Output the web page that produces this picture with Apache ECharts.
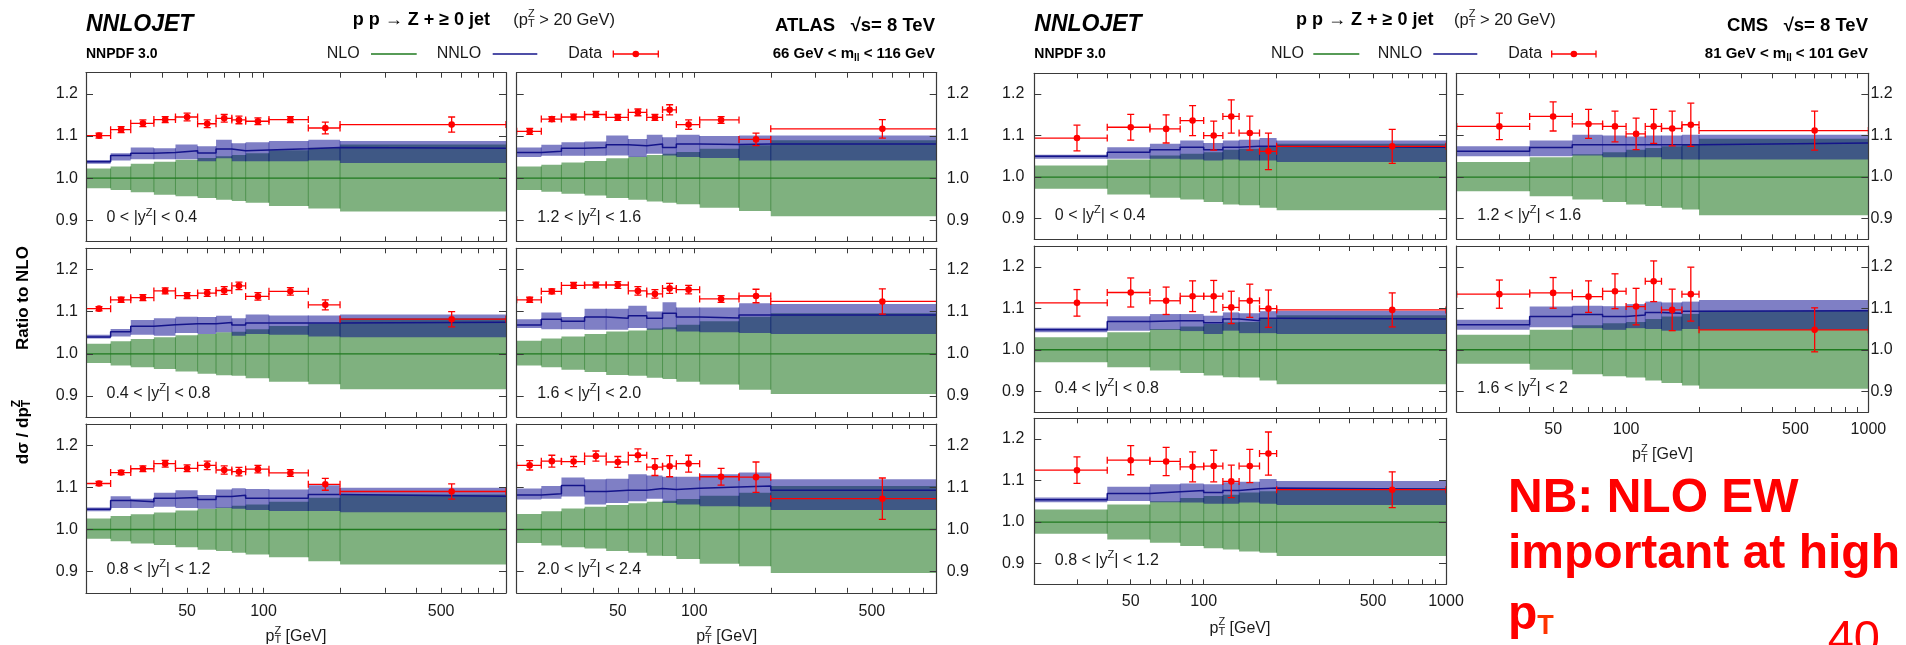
<!DOCTYPE html>
<html>
<head>
<meta charset="utf-8">
<script src="https://cdn.jsdelivr.net/npm/echarts@6/dist/echarts.min.js"></script>
<style>
html, body { margin: 0; padding: 0; background: #ffffff; }
#chart { width: 1906px; height: 645px; }
</style>
</head>
<body>
<div id="chart"></div>
<script>
// ---------- bins and ticks ----------
const atlasEdges = [20, 25, 30, 37, 45, 55, 65, 75, 85, 105, 150, 200, 900];
const atlasCentres = [22.5, 27.5, 33.5, 41, 50, 60, 70, 80, 95, 127.5, 175, 550];
const cmsEdges = [20, 40, 60, 80, 100, 120, 140, 170, 200, 1000];
const cmsCentres = [30, 50, 70, 90, 110, 130, 155, 185, 600];

const xTickValues = [20, 30, 40, 50, 60, 70, 80, 90, 100, 200, 300, 400, 500, 600, 700, 800, 900, 1000];
const xLabelValues = [50, 100, 500, 1000];
const yLabelValues = [0.9, 1.0, 1.1, 1.2];
const nloRatio = 1.0;

// ---------- ATLAS, 0 < |y| < 0.4 ----------
const atlas1NloLow   = [0.976, 0.972, 0.967, 0.961, 0.957, 0.953, 0.949, 0.946, 0.942, 0.934, 0.928, 0.921];
const atlas1NloHigh  = [1.023, 1.028, 1.034, 1.039, 1.044, 1.048, 1.052, 1.055, 1.059, 1.066, 1.072, 1.080];
const atlas1NnloLow  = [1.034, 1.042, 1.045, 1.045, 1.045, 1.040, 1.047, 1.040, 1.040, 1.040, 1.042, 1.036];
const atlas1NnloHigh = [1.043, 1.059, 1.073, 1.071, 1.080, 1.076, 1.091, 1.083, 1.085, 1.088, 1.091, 1.088];
const atlas1NnloMid  = [1.039, 1.054, 1.059, 1.061, 1.065, 1.060, 1.069, 1.065, 1.067, 1.070, 1.073, 1.071];
const atlas1Data     = [1.101, 1.115, 1.130, 1.139, 1.145, 1.129, 1.142, 1.138, 1.135, 1.139, 1.119, 1.127];
const atlas1Err      = [0.006, 0.007, 0.008, 0.007, 0.009, 0.009, 0.009, 0.009, 0.008, 0.007, 0.014, 0.018];

// ---------- ATLAS, 0.4 < |y| < 0.8 ----------
const atlas2NloLow   = [0.978, 0.972, 0.968, 0.964, 0.958, 0.953, 0.949, 0.948, 0.942, 0.934, 0.928, 0.916];
const atlas2NloHigh  = [1.024, 1.030, 1.035, 1.039, 1.044, 1.047, 1.051, 1.052, 1.058, 1.066, 1.072, 1.084];
const atlas2NnloLow  = [1.036, 1.041, 1.045, 1.043, 1.049, 1.047, 1.051, 1.043, 1.047, 1.045, 1.041, 1.039];
const atlas2NnloHigh = [1.045, 1.059, 1.080, 1.084, 1.088, 1.087, 1.090, 1.084, 1.093, 1.091, 1.091, 1.093];
const atlas2NnloMid  = [1.040, 1.052, 1.065, 1.069, 1.071, 1.071, 1.074, 1.068, 1.073, 1.073, 1.073, 1.075];
const atlas2Data     = [1.107, 1.128, 1.133, 1.149, 1.138, 1.144, 1.150, 1.161, 1.136, 1.148, 1.116, 1.082];
const atlas2Err      = [0.005, 0.006, 0.007, 0.007, 0.007, 0.008, 0.009, 0.009, 0.009, 0.009, 0.012, 0.018];

// ---------- ATLAS, 0.8 < |y| < 1.2 ----------
const atlas3NloLow   = [0.978, 0.972, 0.967, 0.963, 0.958, 0.952, 0.949, 0.945, 0.941, 0.934, 0.925, 0.917];
const atlas3NloHigh  = [1.026, 1.032, 1.036, 1.040, 1.045, 1.049, 1.052, 1.056, 1.059, 1.066, 1.075, 1.083];
const atlas3NnloLow  = [1.043, 1.051, 1.051, 1.054, 1.051, 1.049, 1.051, 1.049, 1.046, 1.044, 1.044, 1.041];
const atlas3NnloHigh = [1.052, 1.079, 1.073, 1.087, 1.093, 1.082, 1.095, 1.098, 1.096, 1.095, 1.105, 1.099];
const atlas3NnloMid  = [1.048, 1.069, 1.066, 1.074, 1.076, 1.071, 1.078, 1.081, 1.074, 1.074, 1.083, 1.079];
const atlas3Data     = [1.109, 1.135, 1.144, 1.156, 1.145, 1.152, 1.141, 1.137, 1.143, 1.134, 1.107, 1.090];
const atlas3Err      = [0.005, 0.005, 0.007, 0.008, 0.008, 0.010, 0.010, 0.010, 0.009, 0.008, 0.014, 0.018];

// ---------- ATLAS, 1.2 < |y| < 1.6 ----------
const atlas4NloLow   = [0.972, 0.968, 0.963, 0.959, 0.953, 0.949, 0.945, 0.942, 0.938, 0.930, 0.922, 0.910];
const atlas4NloHigh  = [1.028, 1.032, 1.037, 1.041, 1.047, 1.051, 1.055, 1.058, 1.062, 1.070, 1.078, 1.090];
const atlas4NnloLow  = [1.050, 1.053, 1.053, 1.053, 1.054, 1.050, 1.058, 1.054, 1.050, 1.048, 1.042, 1.042];
const atlas4NnloHigh = [1.073, 1.079, 1.085, 1.087, 1.101, 1.093, 1.103, 1.097, 1.103, 1.100, 1.101, 1.101];
const atlas4NnloMid  = [1.061, 1.064, 1.071, 1.073, 1.079, 1.077, 1.081, 1.073, 1.081, 1.080, 1.081, 1.081];
const atlas4Data     = [1.111, 1.140, 1.145, 1.151, 1.144, 1.156, 1.144, 1.162, 1.127, 1.138, 1.092, 1.117];
const atlas4Err      = [0.007, 0.006, 0.007, 0.007, 0.007, 0.008, 0.007, 0.012, 0.011, 0.008, 0.015, 0.022];

// ---------- ATLAS, 1.6 < |y| < 2.0 ----------
const atlas5NloLow   = [0.972, 0.968, 0.962, 0.957, 0.950, 0.948, 0.943, 0.940, 0.934, 0.927, 0.915, 0.905];
const atlas5NloHigh  = [1.031, 1.036, 1.041, 1.047, 1.053, 1.055, 1.060, 1.063, 1.069, 1.077, 1.088, 1.096];
const atlas5NnloLow  = [1.061, 1.058, 1.058, 1.057, 1.057, 1.061, 1.057, 1.058, 1.053, 1.051, 1.049, 1.047];
const atlas5NnloHigh = [1.082, 1.098, 1.087, 1.107, 1.107, 1.114, 1.100, 1.122, 1.110, 1.110, 1.120, 1.118];
const atlas5NnloMid  = [1.068, 1.082, 1.077, 1.087, 1.084, 1.090, 1.084, 1.096, 1.087, 1.085, 1.092, 1.092];
const atlas5Data     = [1.128, 1.148, 1.162, 1.163, 1.163, 1.149, 1.142, 1.155, 1.152, 1.130, 1.137, 1.124];
const atlas5Err      = [0.006, 0.006, 0.007, 0.007, 0.008, 0.010, 0.010, 0.012, 0.010, 0.008, 0.016, 0.030];

// ---------- ATLAS, 2.0 < |y| < 2.4 ----------
const atlas6NloLow   = [0.968, 0.962, 0.958, 0.955, 0.949, 0.945, 0.938, 0.937, 0.930, 0.919, 0.913, 0.897];
const atlas6NloHigh  = [1.037, 1.043, 1.050, 1.054, 1.058, 1.062, 1.066, 1.068, 1.072, 1.080, 1.087, 1.103];
const atlas6NnloLow  = [1.071, 1.073, 1.078, 1.059, 1.063, 1.067, 1.073, 1.063, 1.059, 1.055, 1.054, 1.046];
const atlas6NnloHigh = [1.097, 1.103, 1.123, 1.119, 1.120, 1.131, 1.128, 1.125, 1.125, 1.131, 1.135, 1.119];
const atlas6NnloMid  = [1.082, 1.085, 1.104, 1.090, 1.093, 1.093, 1.097, 1.095, 1.098, 1.101, 1.103, 1.093];
const atlas6Data     = [1.152, 1.162, 1.161, 1.174, 1.160, 1.176, 1.148, 1.150, 1.156, 1.125, 1.124, 1.073];
const atlas6Err      = [0.011, 0.014, 0.012, 0.012, 0.013, 0.015, 0.020, 0.025, 0.020, 0.020, 0.036, 0.049];

// ---------- CMS, 0 < |y| < 0.4 ----------
const cms1NloLow   = [0.972, 0.958, 0.950, 0.946, 0.940, 0.934, 0.932, 0.926, 0.920];
const cms1NloHigh  = [1.028, 1.042, 1.052, 1.056, 1.060, 1.066, 1.068, 1.074, 1.080];
const cms1NnloLow  = [1.044, 1.044, 1.044, 1.042, 1.040, 1.042, 1.040, 1.040, 1.036];
const cms1NnloHigh = [1.054, 1.072, 1.080, 1.088, 1.082, 1.088, 1.090, 1.094, 1.088];
const cms1NnloMid  = [1.050, 1.060, 1.066, 1.072, 1.066, 1.072, 1.074, 1.074, 1.072];
const cms1Data     = [1.094, 1.120, 1.116, 1.136, 1.100, 1.146, 1.106, 1.062, 1.074];
const cms1Err      = [0.031, 0.031, 0.034, 0.036, 0.035, 0.040, 0.041, 0.044, 0.041];

// ---------- CMS, 0.4 < |y| < 0.8 ----------
const cms2NloLow   = [0.970, 0.958, 0.950, 0.944, 0.938, 0.934, 0.933, 0.926, 0.917];
const cms2NloHigh  = [1.030, 1.042, 1.050, 1.056, 1.062, 1.066, 1.067, 1.074, 1.083];
const cms2NnloLow  = [1.042, 1.046, 1.048, 1.045, 1.038, 1.046, 1.040, 1.040, 1.038];
const cms2NnloHigh = [1.053, 1.081, 1.086, 1.086, 1.082, 1.090, 1.088, 1.093, 1.094];
const cms2NnloMid  = [1.048, 1.068, 1.070, 1.070, 1.065, 1.074, 1.070, 1.076, 1.074];
const cms2Data     = [1.113, 1.138, 1.118, 1.129, 1.129, 1.102, 1.118, 1.099, 1.096];
const cms2Err      = [0.032, 0.035, 0.033, 0.037, 0.038, 0.039, 0.040, 0.045, 0.041];

// ---------- CMS, 0.8 < |y| < 1.2 ----------
const cms3NloLow   = [0.972, 0.958, 0.950, 0.942, 0.937, 0.934, 0.929, 0.926, 0.918];
const cms3NloHigh  = [1.030, 1.042, 1.050, 1.058, 1.063, 1.066, 1.071, 1.074, 1.082];
const cms3NnloLow  = [1.048, 1.051, 1.048, 1.047, 1.044, 1.044, 1.047, 1.044, 1.041];
const cms3NnloHigh = [1.059, 1.085, 1.091, 1.093, 1.091, 1.096, 1.097, 1.104, 1.099];
const cms3NnloMid  = [1.054, 1.069, 1.073, 1.076, 1.071, 1.076, 1.080, 1.082, 1.079];
const cms3Data     = [1.125, 1.149, 1.146, 1.133, 1.135, 1.098, 1.135, 1.165, 1.078];
const cms3Err      = [0.032, 0.035, 0.034, 0.036, 0.038, 0.039, 0.040, 0.052, 0.043];

// ---------- CMS, 1.2 < |y| < 1.6 ----------
const cms4NloLow   = [0.966, 0.954, 0.946, 0.940, 0.934, 0.930, 0.926, 0.922, 0.908];
const cms4NloHigh  = [1.036, 1.048, 1.055, 1.060, 1.066, 1.070, 1.074, 1.078, 1.092];
const cms4NnloLow  = [1.050, 1.050, 1.052, 1.048, 1.048, 1.048, 1.043, 1.042, 1.042];
const cms4NnloHigh = [1.074, 1.088, 1.102, 1.100, 1.098, 1.100, 1.100, 1.102, 1.102];
const cms4NnloMid  = [1.062, 1.071, 1.078, 1.078, 1.078, 1.078, 1.078, 1.078, 1.082];
const cms4Data     = [1.122, 1.146, 1.128, 1.122, 1.104, 1.122, 1.117, 1.126, 1.112];
const cms4Err      = [0.032, 0.035, 0.035, 0.037, 0.038, 0.041, 0.042, 0.052, 0.047];

// ---------- CMS, 1.6 < |y| < 2 ----------
const cms5NloLow   = [0.966, 0.952, 0.941, 0.936, 0.933, 0.926, 0.920, 0.914, 0.906];
const cms5NloHigh  = [1.036, 1.048, 1.059, 1.064, 1.067, 1.074, 1.080, 1.086, 1.094];
const cms5NnloLow  = [1.048, 1.054, 1.052, 1.048, 1.052, 1.050, 1.046, 1.050, 1.048];
const cms5NnloHigh = [1.072, 1.104, 1.106, 1.105, 1.110, 1.116, 1.114, 1.116, 1.120];
const cms5NnloMid  = [1.060, 1.080, 1.085, 1.080, 1.084, 1.090, 1.088, 1.093, 1.094];
const cms5Data     = [1.134, 1.137, 1.128, 1.141, 1.104, 1.165, 1.096, 1.134, 1.048];
const cms5Err      = [0.034, 0.037, 0.038, 0.042, 0.044, 0.049, 0.050, 0.065, 0.053];

// ---------- styling ----------
const FONT = '"Liberation Sans", Arial, Helvetica, sans-serif';
const FRAME = '#3a3a3a';
const TEXT = '#1a1a1a';
const RED = '#ff0000';
const NLO_FILL = 'rgba(0,100,0,0.5)';
const NLO_SEAM = 'rgba(0,100,0,0.45)';
const NLO_LINE = '#1f7a1f';
const NNLO_FILL = 'rgba(0,0,139,0.5)';
const NNLO_SEAM = 'rgba(0,0,139,0.4)';
const NNLO_LINE = '#14148a';
const LOG = Math.log10;

// panel frames in pixels
const layouts = {
  atlas: { cols: [86, 516.7], rows: [72.7, 248.3, 424], w: 420, h: 168.8,
           edges: atlasEdges, centres: atlasCentres, xLabelMargin: 11, yLeftMargin: 8, yRightMargin: 10 },
  cms:   { cols: [1034.3, 1456.7], rows: [73.3, 246, 418.3], w: 411.7, h: 166,
           edges: cmsEdges, centres: cmsCentres, xLabelMargin: 9.5, yLeftMargin: 10, yRightMargin: 2 }
};

const panels = [
  { exp: 'atlas', col: 0, row: 0, rap: ['0', '0.4'], nloLow: atlas1NloLow, nloHigh: atlas1NloHigh, nnloLow: atlas1NnloLow, nnloHigh: atlas1NnloHigh, nnloMid: atlas1NnloMid, data: atlas1Data, err: atlas1Err },
  { exp: 'atlas', col: 0, row: 1, rap: ['0.4', '0.8'], nloLow: atlas2NloLow, nloHigh: atlas2NloHigh, nnloLow: atlas2NnloLow, nnloHigh: atlas2NnloHigh, nnloMid: atlas2NnloMid, data: atlas2Data, err: atlas2Err },
  { exp: 'atlas', col: 0, row: 2, rap: ['0.8', '1.2'], nloLow: atlas3NloLow, nloHigh: atlas3NloHigh, nnloLow: atlas3NnloLow, nnloHigh: atlas3NnloHigh, nnloMid: atlas3NnloMid, data: atlas3Data, err: atlas3Err, xLabels: true },
  { exp: 'atlas', col: 1, row: 0, rap: ['1.2', '1.6'], nloLow: atlas4NloLow, nloHigh: atlas4NloHigh, nnloLow: atlas4NnloLow, nnloHigh: atlas4NnloHigh, nnloMid: atlas4NnloMid, data: atlas4Data, err: atlas4Err },
  { exp: 'atlas', col: 1, row: 1, rap: ['1.6', '2.0'], nloLow: atlas5NloLow, nloHigh: atlas5NloHigh, nnloLow: atlas5NnloLow, nnloHigh: atlas5NnloHigh, nnloMid: atlas5NnloMid, data: atlas5Data, err: atlas5Err },
  { exp: 'atlas', col: 1, row: 2, rap: ['2.0', '2.4'], nloLow: atlas6NloLow, nloHigh: atlas6NloHigh, nnloLow: atlas6NnloLow, nnloHigh: atlas6NnloHigh, nnloMid: atlas6NnloMid, data: atlas6Data, err: atlas6Err, xLabels: true },
  { exp: 'cms', col: 0, row: 0, rap: ['0', '0.4'], nloLow: cms1NloLow, nloHigh: cms1NloHigh, nnloLow: cms1NnloLow, nnloHigh: cms1NnloHigh, nnloMid: cms1NnloMid, data: cms1Data, err: cms1Err },
  { exp: 'cms', col: 0, row: 1, rap: ['0.4', '0.8'], nloLow: cms2NloLow, nloHigh: cms2NloHigh, nnloLow: cms2NnloLow, nnloHigh: cms2NnloHigh, nnloMid: cms2NnloMid, data: cms2Data, err: cms2Err },
  { exp: 'cms', col: 0, row: 2, rap: ['0.8', '1.2'], nloLow: cms3NloLow, nloHigh: cms3NloHigh, nnloLow: cms3NnloLow, nnloHigh: cms3NnloHigh, nnloMid: cms3NnloMid, data: cms3Data, err: cms3Err, xLabels: true },
  { exp: 'cms', col: 1, row: 0, rap: ['1.2', '1.6'], nloLow: cms4NloLow, nloHigh: cms4NloHigh, nnloLow: cms4NnloLow, nnloHigh: cms4NnloHigh, nnloMid: cms4NnloMid, data: cms4Data, err: cms4Err },
  { exp: 'cms', col: 1, row: 1, rap: ['1.6', '2'], nloLow: cms5NloLow, nloHigh: cms5NloHigh, nnloLow: cms5NnloLow, nnloHigh: cms5NnloHigh, nnloMid: cms5NnloMid, data: cms5Data, err: cms5Err, xLabels: true }
];

// ---------- text helpers ----------
const measureCtx = document.createElement('canvas').getContext('2d');
function measure(t, size, weight, style) {
  measureCtx.font = (style || 'normal') + ' ' + (weight || 'normal') + ' ' + size + 'px ' + FONT;
  return measureCtx.measureText(t).width;
}
// lays out a run of text pieces; pieces with sup/sub are stacked scripts
function rowText(x, y, parts, anchor, color) {
  const items = [];
  let cx = 0;
  parts.forEach(p => {
    if (p.sup !== undefined || p.sub !== undefined) {
      const w1 = p.sup ? measure(p.sup, p.f, p.w) : 0;
      const w2 = p.sub ? measure(p.sub, p.f, p.w) : 0;
      if (p.sup) items.push({ t: p.sup, x: cx, dy: -p.up, f: p.f, w: p.w, c: p.c });
      if (p.sub) items.push({ t: p.sub, x: cx, dy: p.down, f: p.f, w: p.w, c: p.c });
      cx += Math.max(w1, w2) + (p.pad || 0);
    } else {
      items.push({ t: p.t, x: cx, dy: p.dy || 0, f: p.f, w: p.w, s: p.s, c: p.c });
      cx += measure(p.t, p.f, p.w, p.s);
    }
  });
  const off = anchor === 'center' ? -cx / 2 : anchor === 'right' ? -cx : 0;
  return items.map(it => ({
    type: 'text', silent: true, z: 50,
    x: x + off + it.x, y: y + it.dy,
    style: {
      text: it.t, fill: it.c || color, fontFamily: FONT, fontSize: it.f,
      fontWeight: it.w || 'normal', fontStyle: it.s || 'normal',
      align: 'left', verticalAlign: 'middle'
    }
  }));
}
function ptParts(f, w) {
  return [{ t: 'p', f: f, w: w }, { sup: 'Z', sub: 'T', f: Math.round(f * 0.68), w: w, up: f * 0.38, down: f * 0.22 }];
}

// ---------- build option ----------
const grids = [], xAxes = [], yAxes = [], series = [], graphics = [];

panels.forEach((p, i) => {
  const L = layouts[p.exp];
  const left = L.cols[p.col], top = L.rows[p.row];
  const edges = L.edges, centres = L.centres;
  const xmin = edges[0], xmax = edges[edges.length - 1];
  grids.push({ left: left, top: top, width: L.w, height: L.h, show: false });

  const tickVals = xTickValues.filter(v => v >= xmin && v <= xmax).map(LOG);
  const labVals = xLabelValues.filter(v => v >= xmin && v <= xmax).map(LOG);
  const lineCfg = { show: true, onZero: false, lineStyle: { color: FRAME, width: 1.2 } };
  const xBase = {
    type: 'value', gridIndex: i, min: LOG(xmin), max: LOG(xmax),
    splitLine: { show: false }, axisLine: lineCfg, z: 20,
    axisTick: { show: true, inside: true, length: 5, customValues: tickVals, lineStyle: { color: FRAME, width: 1 } }
  };
  xAxes.push(Object.assign({}, xBase, {
    position: 'bottom',
    axisLabel: {
      show: !!p.xLabels, customValues: labVals, margin: L.xLabelMargin,
      formatter: v => String(Math.round(Math.pow(10, v))),
      fontFamily: FONT, fontSize: 16, color: TEXT
    }
  }));
  xAxes.push(Object.assign({}, xBase, { position: 'top', axisLabel: { show: false } }));

  const yBase = {
    type: 'value', gridIndex: i, min: 0.85, max: 1.25,
    splitLine: { show: false }, axisLine: lineCfg, z: 20,
    axisTick: { show: true, inside: true, length: 7, customValues: yLabelValues, lineStyle: { color: FRAME, width: 1 } }
  };
  const yLab = {
    customValues: yLabelValues, formatter: v => v.toFixed(1),
    fontFamily: FONT, fontSize: 16, color: TEXT
  };
  yAxes.push(Object.assign({}, yBase, { position: 'left',
    axisLabel: Object.assign({ show: p.col === 0, margin: L.yLeftMargin }, yLab) }));
  yAxes.push(Object.assign({}, yBase, { position: 'right',
    axisLabel: Object.assign({ show: p.col === 1, margin: L.yRightMargin }, yLab) }));

  const axisRef = { xAxisIndex: 2 * i, yAxisIndex: 2 * i };

  // uncertainty band: one rectangle per bin plus the darker seams between bins
  function bandSeries(lowArr, highArr, fill, seam, z) {
    const items = lowArr.map((lo, k) => [LOG(edges[k]), LOG(edges[k + 1]), lo, highArr[k]]);
    return Object.assign({
      type: 'custom', silent: true, clip: true, z: z,
      encode: { x: [0, 1], y: [2, 3] },
      data: items,
      renderItem: (params, api) => {
        const k = params.dataIndex;
        const a = api.coord([api.value(0), api.value(3)]);
        const b = api.coord([api.value(1), api.value(2)]);
        const children = [{
          type: 'rect', shape: { x: a[0], y: a[1], width: b[0] - a[0], height: b[1] - a[1] },
          style: { fill: fill }
        }];
        if (k > 0) {
          const lo = Math.max(lowArr[k], lowArr[k - 1]);
          const hi = Math.min(highArr[k], highArr[k - 1]);
          if (hi > lo) {
            const s0 = api.coord([api.value(0), hi]);
            const s1 = api.coord([api.value(0), lo]);
            children.push({ type: 'line', shape: { x1: s0[0], y1: s0[1], x2: s1[0], y2: s1[1] },
                            style: { stroke: seam, lineWidth: 1 } });
          }
        }
        return { type: 'group', children: children };
      }
    }, axisRef);
  }

  series.push(bandSeries(p.nloLow, p.nloHigh, NLO_FILL, NLO_SEAM, 2));
  series.push(Object.assign({
    type: 'line', silent: true, z: 3, symbol: 'none', animation: false,
    lineStyle: { color: NLO_LINE, width: 1.3 },
    data: [[LOG(xmin), nloRatio], [LOG(xmax), nloRatio]]
  }, axisRef));
  series.push(bandSeries(p.nnloLow, p.nnloHigh, NNLO_FILL, NNLO_SEAM, 4));

  const step = [];
  p.nnloMid.forEach((m, k) => { step.push([LOG(edges[k]), m]); step.push([LOG(edges[k + 1]), m]); });
  series.push(Object.assign({
    type: 'line', silent: true, z: 5, symbol: 'none', animation: false,
    lineStyle: { color: NNLO_LINE, width: 1.5 }, data: step
  }, axisRef));

  // measured points with x (bin) and y (uncertainty) bars
  series.push(Object.assign({
    type: 'custom', silent: true, clip: true, z: 6,
    encode: { x: [0, 1, 2], y: [3] },
    data: p.data.map((v, k) => [LOG(centres[k]), LOG(edges[k]), LOG(edges[k + 1]), v, p.err[k]]),
    renderItem: (params, api) => {
      const xc = api.value(0), x0 = api.value(1), x1 = api.value(2), y = api.value(3), e = api.value(4);
      const c = api.coord([xc, y]), l = api.coord([x0, y]), r = api.coord([x1, y]);
      const t = api.coord([xc, y + e]), b = api.coord([xc, y - e]);
      const cap = 3.5, st = { stroke: RED, lineWidth: 1.3 };
      const ln = (x1_, y1_, x2_, y2_) => ({ type: 'line', shape: { x1: x1_, y1: y1_, x2: x2_, y2: y2_ }, style: st });
      return { type: 'group', children: [
        ln(l[0], l[1], r[0], r[1]),
        ln(l[0], l[1] - cap, l[0], l[1] + cap),
        ln(r[0], r[1] - cap, r[0], r[1] + cap),
        ln(t[0], t[1], b[0], b[1]),
        ln(t[0] - cap, t[1], t[0] + cap, t[1]),
        ln(b[0] - cap, b[1], b[0] + cap, b[1]),
        { type: 'circle', shape: { cx: c[0], cy: c[1], r: 3.3 }, style: { fill: RED } }
      ] };
    }
  }, axisRef));

  // rapidity range label
  graphics.push(...rowText(left + 20.5, top + L.h - 23.5, [
    { t: p.rap[0] + ' < |y', f: 16 },
    { sup: 'Z', f: 11, up: 5.5 },
    { t: '| < ' + p.rap[1], f: 16 }
  ], 'left', TEXT));
});

// ---------- headers, legends, axis names ----------
function header(xl, xr, procX, cutX, expName, massText, leg) {
  graphics.push(...rowText(xl, 24.5, [{ t: 'NNLOJET', f: 23, w: 'bold', s: 'italic' }], 'left', '#000'));
  graphics.push(...rowText(xl, 54, [{ t: 'NNPDF 3.0', f: 14, w: 'bold' }], 'left', '#000'));
  graphics.push(...rowText(procX, 20.5, [{ t: 'p p \u2192 Z + \u2265 0 jet', f: 18, w: 'bold' }], 'left', '#000'));
  graphics.push(...rowText(cutX, 20.5, [{ t: '(', f: 16.5 }].concat(ptParts(16.5)).concat([{ t: ' > 20 GeV)', f: 16.5 }]), 'left', TEXT));
  graphics.push(...rowText(xr, 25.5, [{ t: expName + '   \u221As= 8 TeV', f: 18.5, w: 'bold' }], 'right', '#000'));
  graphics.push(...rowText(xr, 54, [
    { t: massText[0] + ' GeV < m', f: 15, w: 'bold' },
    { sub: 'll', f: 10, w: 'bold', down: 4 },
    { t: ' < ' + massText[1] + ' GeV', f: 15, w: 'bold' }
  ], 'right', '#000'));
  // legend
  graphics.push(...rowText(leg.nlo, 54, [{ t: 'NLO', f: 16 }], 'left', TEXT));
  graphics.push(...rowText(leg.nnlo, 54, [{ t: 'NNLO', f: 16 }], 'left', TEXT));
  graphics.push(...rowText(leg.data, 54, [{ t: 'Data', f: 16 }], 'left', TEXT));
  graphics.push({ type: 'line', silent: true, shape: { x1: leg.g[0], y1: 54, x2: leg.g[1], y2: 54 }, style: { stroke: NLO_LINE, lineWidth: 1.3 } });
  graphics.push({ type: 'line', silent: true, shape: { x1: leg.b[0], y1: 54, x2: leg.b[1], y2: 54 }, style: { stroke: NNLO_LINE, lineWidth: 1.3 } });
  const r0 = leg.r[0], r1 = leg.r[1], rm = (r0 + r1) / 2;
  [[r0, 54, r1, 54], [r0, 50.5, r0, 57.5], [r1, 50.5, r1, 57.5]].forEach(s =>
    graphics.push({ type: 'line', silent: true, shape: { x1: s[0], y1: s[1], x2: s[2], y2: s[3] }, style: { stroke: RED, lineWidth: 1.3 } }));
  graphics.push({ type: 'circle', silent: true, shape: { cx: rm, cy: 54, r: 3.3 }, style: { fill: RED } });
}

header(86, 935, 352.7, 513.3, 'ATLAS', ['66', '116'],
  { nlo: 326.7, g: [371, 416.7], nnlo: 436.7, b: [492.7, 537.3], data: 568.3, r: [613.3, 658.3] });
header(1034.3, 1868, 1296, 1454, 'CMS', ['81', '101'],
  { nlo: 1271, g: [1313.3, 1359.3], nnlo: 1377.7, b: [1433.3, 1477.3], data: 1508.3, r: [1551.7, 1596] });

// x-axis names
const ptName = f => ptParts(f).concat([{ t: ' [GeV]', f: f }]);
graphics.push(...rowText(296, 636.7, ptName(16), 'center', TEXT));
graphics.push(...rowText(726.7, 636.7, ptName(16), 'center', TEXT));
graphics.push(...rowText(1240, 628.3, ptName(16), 'center', TEXT));
graphics.push(...rowText(1662.5, 455, ptName(16), 'center', TEXT));

// y-axis name, rotated to read upwards
graphics.push({ type: 'group', x: 23, y: 298, rotation: Math.PI / 2, silent: true,
  children: rowText(0, 0, [{ t: 'Ratio to NLO', f: 17, w: 'bold' }], 'center', '#000') });
graphics.push({ type: 'group', x: 23, y: 432, rotation: Math.PI / 2, silent: true,
  children: rowText(0, 0, [{ t: 'd\u03C3 / dp', f: 17, w: 'bold' },
    { sup: 'Z', sub: 'T', f: 12, w: 'bold', up: 6.5, down: 4 }], 'center', '#000') });

// note
graphics.push(...rowText(1508, 499, [{ t: 'NB: NLO EW', f: 48, w: 'bold' }], 'left', RED));
graphics.push(...rowText(1508, 554.5, [{ t: 'important at high', f: 48, w: 'bold' }], 'left', RED));
graphics.push(...rowText(1508, 616, [{ t: 'p', f: 48, w: 'bold' }, { t: 'T', f: 27, w: 'bold', dy: 11, c: '#ff3300' }], 'left', RED));
graphics.push(...rowText(1880, 640, [{ t: '40', f: 47 }], 'right', RED));

const chart = echarts.init(document.getElementById('chart'), null, { renderer: 'canvas' });
chart.setOption({
  animation: false,
  backgroundColor: '#ffffff',
  grid: grids,
  xAxis: xAxes,
  yAxis: yAxes,
  series: series,
  graphic: { elements: graphics }
});
</script>
</body>
</html>
